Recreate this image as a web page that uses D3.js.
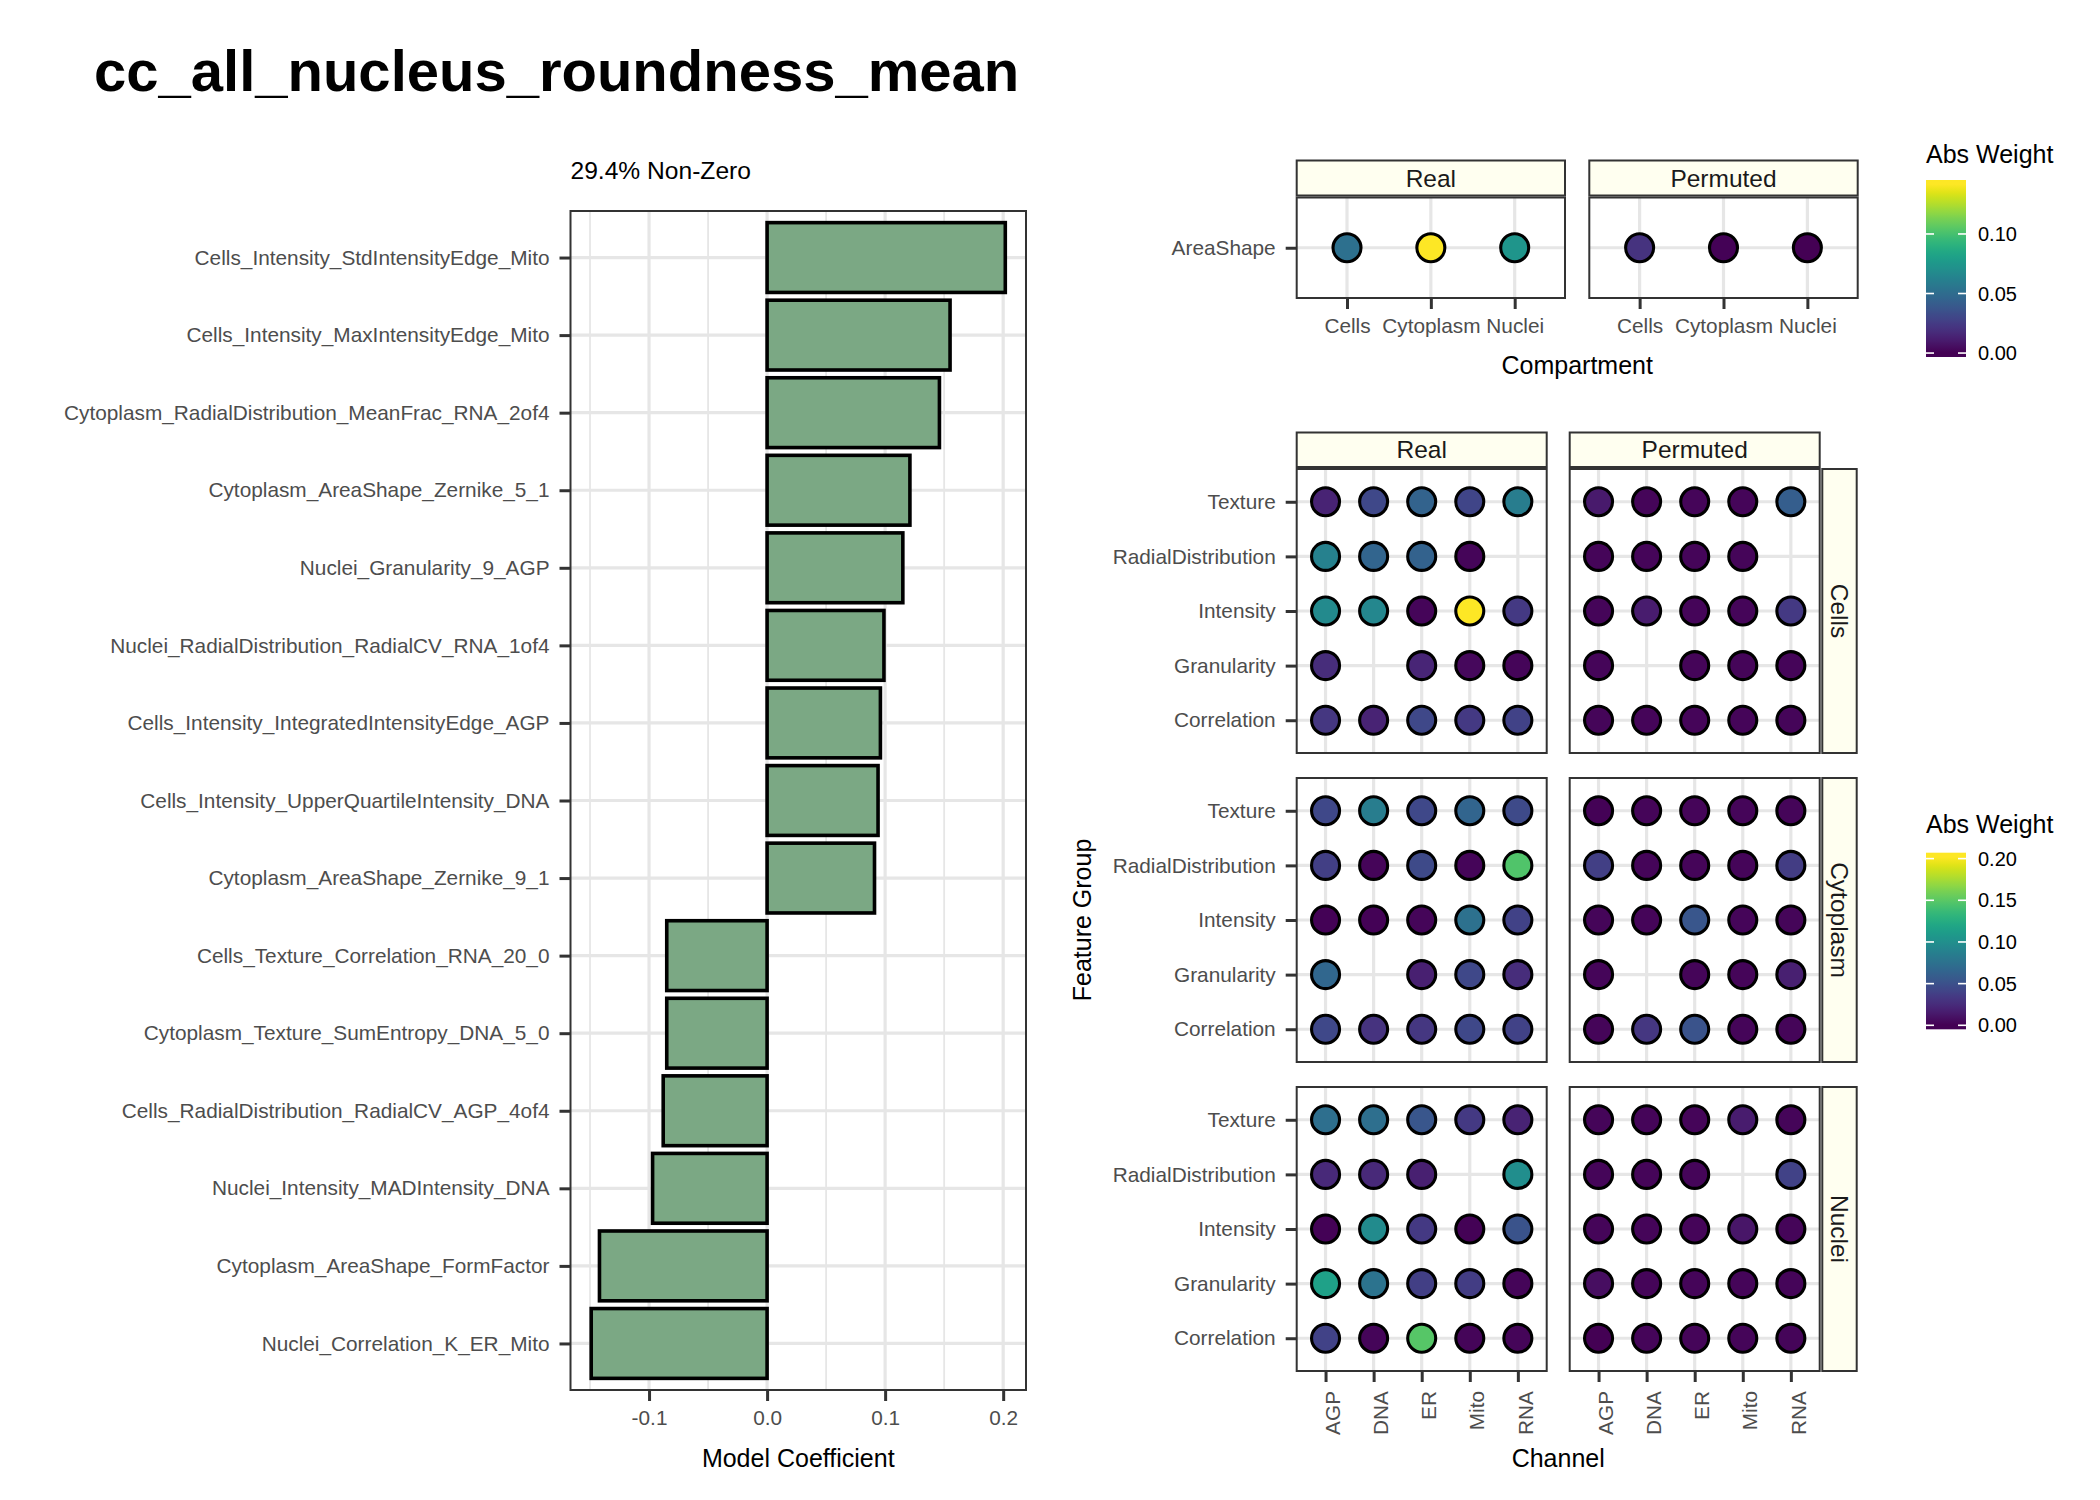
<!DOCTYPE html>
<html><head><meta charset="utf-8">
<script src="https://cdn.jsdelivr.net/npm/d3@7"></script>
<style>
body{margin:0;background:#fff;}
svg{display:block;font-family:"Liberation Sans",Arial,Helvetica,sans-serif;}
</style>
</head><body>
<svg id="chart" width="2100" height="1500"></svg>
<script>
// ---------------- DATA ----------------
const titleText = "cc_all_nucleus_roundness_mean";
const subtitleText = "29.4% Non-Zero";

const features = [
  "Cells_Intensity_StdIntensityEdge_Mito",
  "Cells_Intensity_MaxIntensityEdge_Mito",
  "Cytoplasm_RadialDistribution_MeanFrac_RNA_2of4",
  "Cytoplasm_AreaShape_Zernike_5_1",
  "Nuclei_Granularity_9_AGP",
  "Nuclei_RadialDistribution_RadialCV_RNA_1of4",
  "Cells_Intensity_IntegratedIntensityEdge_AGP",
  "Cells_Intensity_UpperQuartileIntensity_DNA",
  "Cytoplasm_AreaShape_Zernike_9_1",
  "Cells_Texture_Correlation_RNA_20_0",
  "Cytoplasm_Texture_SumEntropy_DNA_5_0",
  "Cells_RadialDistribution_RadialCV_AGP_4of4",
  "Nuclei_Intensity_MADIntensity_DNA",
  "Cytoplasm_AreaShape_FormFactor",
  "Nuclei_Correlation_K_ER_Mito"
];
const coefficients = [0.2018, 0.155, 0.146, 0.121, 0.115, 0.099, 0.096, 0.094, 0.091,
  -0.085, -0.085, -0.088, -0.097, -0.142, -0.149];
const barTicks = [-0.1, 0.0, 0.1, 0.2];
const barMinorTicks = [-0.15, -0.05, 0.05, 0.15];

const models = ["Real", "Permuted"];
const compartments = ["Cells", "Cytoplasm", "Nuclei"];
const areaShapeGroup = ["AreaShape"];
const areaShapeReal = [0.052, 0.1416, 0.074];
const areaShapePermuted = [0.021, 0.0015, 0.0004];
const legendTicksTop = [0.00, 0.05, 0.10];

const channels = ["AGP", "DNA", "ER", "Mito", "RNA"];
const featureGroups = ["Texture", "RadialDistribution", "Intensity", "Granularity", "Correlation"];
// rows follow featureGroups, columns follow channels; null = no feature
const cellsReal = [
  [0.020, 0.044, 0.064, 0.042, 0.085],
  [0.088, 0.065, 0.063, 0.003, null],
  [0.096, 0.094, 0.003, 0.2018, 0.034],
  [0.026, null, 0.021, 0.005, 0.003],
  [0.032, 0.020, 0.044, 0.034, 0.040]
];
const cellsPermuted = [
  [0.014, 0.003, 0.003, 0.003, 0.060],
  [0.003, 0.003, 0.003, 0.003, null],
  [0.003, 0.016, 0.003, 0.003, 0.034],
  [0.003, null, 0.003, 0.003, 0.003],
  [0.003, 0.003, 0.003, 0.003, 0.003]
];
const cytoplasmReal = [
  [0.044, 0.085, 0.044, 0.065, 0.046],
  [0.038, 0.003, 0.046, 0.003, 0.146],
  [0.0015, 0.0015, 0.003, 0.075, 0.040],
  [0.067, null, 0.018, 0.044, 0.026],
  [0.044, 0.030, 0.032, 0.044, 0.040]
];
const cytoplasmPermuted = [
  [0.0015, 0.003, 0.003, 0.003, 0.003],
  [0.038, 0.003, 0.003, 0.003, 0.036],
  [0.003, 0.003, 0.054, 0.003, 0.003],
  [0.003, null, 0.003, 0.003, 0.018],
  [0.003, 0.032, 0.052, 0.003, 0.003]
];
const nucleiReal = [
  [0.073, 0.073, 0.054, 0.034, 0.020],
  [0.024, 0.024, 0.018, null, 0.099],
  [0.0015, 0.097, 0.034, 0.0015, 0.052],
  [0.115, 0.077, 0.038, 0.036, 0.003],
  [0.040, 0.003, 0.149, 0.003, 0.003]
];
const nucleiPermuted = [
  [0.003, 0.003, 0.003, 0.016, 0.003],
  [0.003, 0.003, 0.003, null, 0.040],
  [0.003, 0.003, 0.003, 0.012, 0.003],
  [0.008, 0.003, 0.003, 0.003, 0.003],
  [0.0005, 0.003, 0.003, 0.003, 0.003]
];
const legendTicksBottom = [0.00, 0.05, 0.10, 0.15, 0.20];

// ---------------- STYLE ----------------
const FONT_TICK = 20.8, FONT_TITLE_AX = 25, FONT_STRIP = 24.5;
const TICK_COL = "#4d4d4d", BORDER = "#333333", GRID = "#e6e6e6";
const STRIP_FILL = "#fffff0";
const TICK_LEN = 11, TICK_PAD = 10;
const GRID_W = 3.2;

const svg = d3.select("#chart");
svg.append("rect").attr("width", 2100).attr("height", 1500).attr("fill", "#fff");

svg.append("text").attr("x", 94).attr("y", 91)
  .attr("font-size", 58).attr("font-weight", "bold").attr("fill", "#000")
  .text(titleText);

function styleAxis(g) {
  g.select(".domain").remove();
  g.selectAll(".tick line").attr("stroke", BORDER).attr("stroke-width", 3);
  g.selectAll(".tick text").attr("font-size", FONT_TICK).attr("fill", TICK_COL)
    .attr("font-family", "Liberation Sans, Arial, sans-serif");
}

// ---------------- BAR CHART ----------------
(function () {
  const X0 = 570.5, X1 = 1026, Y0 = 211, Y1 = 1390;
  const ext = d3.extent(coefficients);
  const pad = (ext[1] - ext[0]) * 0.05;
  const x = d3.scaleLinear().domain([ext[0] - pad, ext[1] + pad]).range([X0, X1]);
  const y = d3.scaleBand().domain(features).range([Y0, Y1]).paddingInner(0.1).paddingOuter(0.15);
  const yp = d3.scalePoint().domain(features).range([Y0, Y1]).padding(0.6);
  const g = svg.append("g");

  g.append("rect").attr("x", X0).attr("y", Y0).attr("width", X1 - X0).attr("height", Y1 - Y0).attr("fill", "#fff");
  g.selectAll(".minor").data(barMinorTicks).join("line")
    .attr("x1", d => x(d)).attr("x2", d => x(d)).attr("y1", Y0).attr("y2", Y1)
    .attr("stroke", GRID).attr("stroke-width", 1.8);
  g.selectAll(".major").data(barTicks).join("line")
    .attr("x1", d => x(d)).attr("x2", d => x(d)).attr("y1", Y0).attr("y2", Y1)
    .attr("stroke", GRID).attr("stroke-width", GRID_W);
  g.selectAll(".hgrid").data(features).join("line")
    .attr("x1", X0).attr("x2", X1).attr("y1", d => yp(d)).attr("y2", d => yp(d))
    .attr("stroke", GRID).attr("stroke-width", GRID_W);

  g.selectAll(".bar").data(features).join("rect")
    .attr("x", (d, i) => x(Math.min(0, coefficients[i])))
    .attr("width", (d, i) => Math.abs(x(coefficients[i]) - x(0)))
    .attr("y", d => y(d)).attr("height", y.bandwidth())
    .attr("fill", "#7ba884").attr("stroke", "#000").attr("stroke-width", 3.6);

  g.append("rect").attr("x", X0).attr("y", Y0).attr("width", X1 - X0).attr("height", Y1 - Y0)
    .attr("fill", "none").attr("stroke", BORDER).attr("stroke-width", 2);

  const ax = g.append("g").attr("transform", `translate(0,${Y1})`)
    .call(d3.axisBottom(x).tickValues(barTicks).tickSize(TICK_LEN).tickPadding(9).tickFormat(d => d.toFixed(1)));
  styleAxis(ax);
  const ay = g.append("g").attr("transform", `translate(${X0},0)`)
    .call(d3.axisLeft(yp).tickSize(TICK_LEN).tickPadding(TICK_PAD));
  styleAxis(ay);

  g.append("text").attr("x", X0).attr("y", 179).attr("font-size", 24.6).attr("fill", "#000").text(subtitleText);
  g.append("text").attr("x", (X0 + X1) / 2).attr("y", 1467).attr("text-anchor", "middle")
    .attr("font-size", FONT_TITLE_AX).attr("fill", "#000").text("Model Coefficient");
})();

// ---------------- helpers ----------------
function stripTop(g, x0, x1, y0, y1, label) {
  g.append("rect").attr("x", x0).attr("y", y0).attr("width", x1 - x0).attr("height", y1 - y0)
    .attr("fill", STRIP_FILL).attr("stroke", BORDER).attr("stroke-width", 2);
  g.append("text").attr("x", (x0 + x1) / 2).attr("y", (y0 + y1) / 2).attr("dy", "0.35em")
    .attr("text-anchor", "middle").attr("font-size", FONT_STRIP).attr("fill", "#1a1a1a").text(label);
}
function stripRight(g, x0, x1, y0, y1, label) {
  g.append("rect").attr("x", x0).attr("y", y0).attr("width", x1 - x0).attr("height", y1 - y0)
    .attr("fill", STRIP_FILL).attr("stroke", BORDER).attr("stroke-width", 2);
  const cx = (x0 + x1) / 2, cy = (y0 + y1) / 2;
  g.append("text").attr("transform", `translate(${cx},${cy}) rotate(90)`).attr("dy", "0.35em")
    .attr("text-anchor", "middle").attr("font-size", FONT_STRIP).attr("fill", "#1a1a1a").text(label);
}
function dotPanel(g, xs, ys, x0, x1, y0, y1, cells, color) {
  g.append("rect").attr("x", x0).attr("y", y0).attr("width", x1 - x0).attr("height", y1 - y0).attr("fill", "#fff");
  g.selectAll(null).data(xs.domain()).join("line")
    .attr("x1", d => xs(d)).attr("x2", d => xs(d)).attr("y1", y0).attr("y2", y1)
    .attr("stroke", GRID).attr("stroke-width", GRID_W);
  g.selectAll(null).data(ys.domain()).join("line")
    .attr("x1", x0).attr("x2", x1).attr("y1", d => ys(d)).attr("y2", d => ys(d))
    .attr("stroke", GRID).attr("stroke-width", GRID_W);
  g.selectAll(null).data(cells.filter(c => c.v !== null)).join("circle")
    .attr("cx", d => xs(d.x)).attr("cy", d => ys(d.y)).attr("r", 14)
    .attr("fill", d => color(d.v)).attr("stroke", "#000").attr("stroke-width", 3.1);
  g.append("rect").attr("x", x0).attr("y", y0).attr("width", x1 - x0).attr("height", y1 - y0)
    .attr("fill", "none").attr("stroke", BORDER).attr("stroke-width", 2);
}
function colorbar(id, x0, yTop, yBot, width, domain, ticks, titleY) {
  const len = yBot - yTop, half = len / 40;
  const grad = svg.append("defs").append("linearGradient").attr("id", id)
    .attr("x1", 0).attr("y1", 1).attr("x2", 0).attr("y2", 0);
  const a = half / len;
  grad.append("stop").attr("offset", 0).attr("stop-color", d3.interpolateViridis(0));
  d3.range(0, 41).forEach(i => {
    const t = i / 40;
    grad.append("stop").attr("offset", a + t * (1 - 2 * a)).attr("stop-color", d3.interpolateViridis(t));
  });
  grad.append("stop").attr("offset", 1).attr("stop-color", d3.interpolateViridis(1));
  const s = d3.scaleLinear().domain(domain).range([yBot - half, yTop + half]);
  svg.append("text").attr("x", x0).attr("y", titleY).attr("font-size", 25).attr("fill", "#000").text("Abs Weight");
  svg.append("rect").attr("x", x0).attr("y", yTop).attr("width", width).attr("height", len).attr("fill", `url(#${id})`);
  const tl = width / 5;
  ticks.forEach(v => {
    const yy = s(v);
    svg.append("line").attr("x1", x0).attr("x2", x0 + tl).attr("y1", yy).attr("y2", yy).attr("stroke", "#fff").attr("stroke-width", 1.6);
    svg.append("line").attr("x1", x0 + width - tl).attr("x2", x0 + width).attr("y1", yy).attr("y2", yy).attr("stroke", "#fff").attr("stroke-width", 1.6);
    svg.append("text").attr("x", x0 + width + 12).attr("y", yy).attr("dy", "0.35em")
      .attr("font-size", 20).attr("fill", "#000").text(v.toFixed(2));
  });
}

// ---------------- TOP DOT PLOT (AreaShape) ----------------
(function () {
  const cols = [[1296.7, 1565], [1589.3, 1857.7]];
  const Y0 = 197.5, Y1 = 298;
  const allVals = areaShapeReal.concat(areaShapePermuted);
  const dom = d3.extent(allVals);
  const color = d3.scaleSequential(d3.interpolateViridis).domain(dom);
  const sets = [areaShapeReal, areaShapePermuted];
  const g = svg.append("g");
  models.forEach((m, mi) => {
    const [x0, x1] = cols[mi];
    const xs = d3.scalePoint().domain(compartments).range([x0, x1]).padding(0.6);
    const ys = d3.scalePoint().domain(areaShapeGroup).range([Y0, Y1]).padding(0.6);
    const cells = compartments.map((c, i) => ({ x: c, y: "AreaShape", v: sets[mi][i] }));
    const pg = g.append("g");
    dotPanel(pg, xs, ys, x0, x1, Y0, Y1, cells, color);
    stripTop(pg, x0, x1, 160.5, 195.5, m);
    const ax = pg.append("g").attr("transform", `translate(0,${Y1})`)
      .call(d3.axisBottom(xs).tickSize(TICK_LEN).tickPadding(9));
    styleAxis(ax);
    if (mi === 0) {
      const ay = pg.append("g").attr("transform", `translate(${x0},0)`)
        .call(d3.axisLeft(ys).tickSize(TICK_LEN).tickPadding(TICK_PAD));
      styleAxis(ay);
    }
  });
  g.append("text").attr("x", (cols[0][0] + cols[1][1]) / 2).attr("y", 374).attr("text-anchor", "middle")
    .attr("font-size", FONT_TITLE_AX).attr("fill", "#000").text("Compartment");
  colorbar("vir1", 1926, 180, 357, 40, dom, legendTicksTop, 163);
})();

// ---------------- BOTTOM DOT GRID ----------------
(function () {
  const cols = [[1296.7, 1546.7], [1569.7, 1819.7]];
  const rows = [[469, 753], [778, 1062], [1087, 1371]];
  const data = {
    Cells: [cellsReal, cellsPermuted],
    Cytoplasm: [cytoplasmReal, cytoplasmPermuted],
    Nuclei: [nucleiReal, nucleiPermuted]
  };
  const allVals = [];
  compartments.forEach(c => data[c].forEach(mat => mat.forEach(r => r.forEach(v => { if (v !== null) allVals.push(v); }))));
  const dom = d3.extent(allVals);
  const color = d3.scaleSequential(d3.interpolateViridis).domain(dom);
  const g = svg.append("g");
  compartments.forEach((comp, ci) => {
    const [y0, y1] = rows[ci];
    models.forEach((m, mi) => {
      const [x0, x1] = cols[mi];
      const xs = d3.scalePoint().domain(channels).range([x0, x1]).padding(0.6);
      const ys = d3.scalePoint().domain(featureGroups).range([y0, y1]).padding(0.6);
      const mat = data[comp][mi];
      const cells = [];
      featureGroups.forEach((fg, ri) => channels.forEach((ch, cj) => cells.push({ x: ch, y: fg, v: mat[ri][cj] })));
      const pg = g.append("g");
      dotPanel(pg, xs, ys, x0, x1, y0, y1, cells, color);
      if (ci === 0) stripTop(pg, x0, x1, 432.5, 467, m);
      if (mi === 0) {
        const ay = pg.append("g").attr("transform", `translate(${x0},0)`)
          .call(d3.axisLeft(ys).tickSize(TICK_LEN).tickPadding(TICK_PAD));
        styleAxis(ay);
      }
      if (ci === compartments.length - 1) {
        const ax = pg.append("g").attr("transform", `translate(0,${y1})`)
          .call(d3.axisBottom(xs).tickSize(TICK_LEN).tickPadding(9));
        styleAxis(ax);
        ax.selectAll(".tick text")
          .attr("transform", "rotate(-90)")
          .attr("x", -(TICK_LEN + 9)).attr("y", 0).attr("dy", "0.68em")
          .attr("text-anchor", "end");
      }
    });
    stripRight(g, 1822.3, 1856.7, y0, y1, comp);
  });
  g.append("text").attr("x", (cols[0][0] + cols[1][1]) / 2).attr("y", 1467).attr("text-anchor", "middle")
    .attr("font-size", FONT_TITLE_AX).attr("fill", "#000").text("Channel");
  g.append("text").attr("transform", `translate(1082,${(rows[0][0] + rows[2][1]) / 2}) rotate(-90)`)
    .attr("dy", "0.35em").attr("text-anchor", "middle")
    .attr("font-size", FONT_TITLE_AX).attr("fill", "#000").text("Feature Group");
  colorbar("vir2", 1926, 852.7, 1029.3, 40, dom, legendTicksBottom, 833);
})();
</script>
</body></html>
